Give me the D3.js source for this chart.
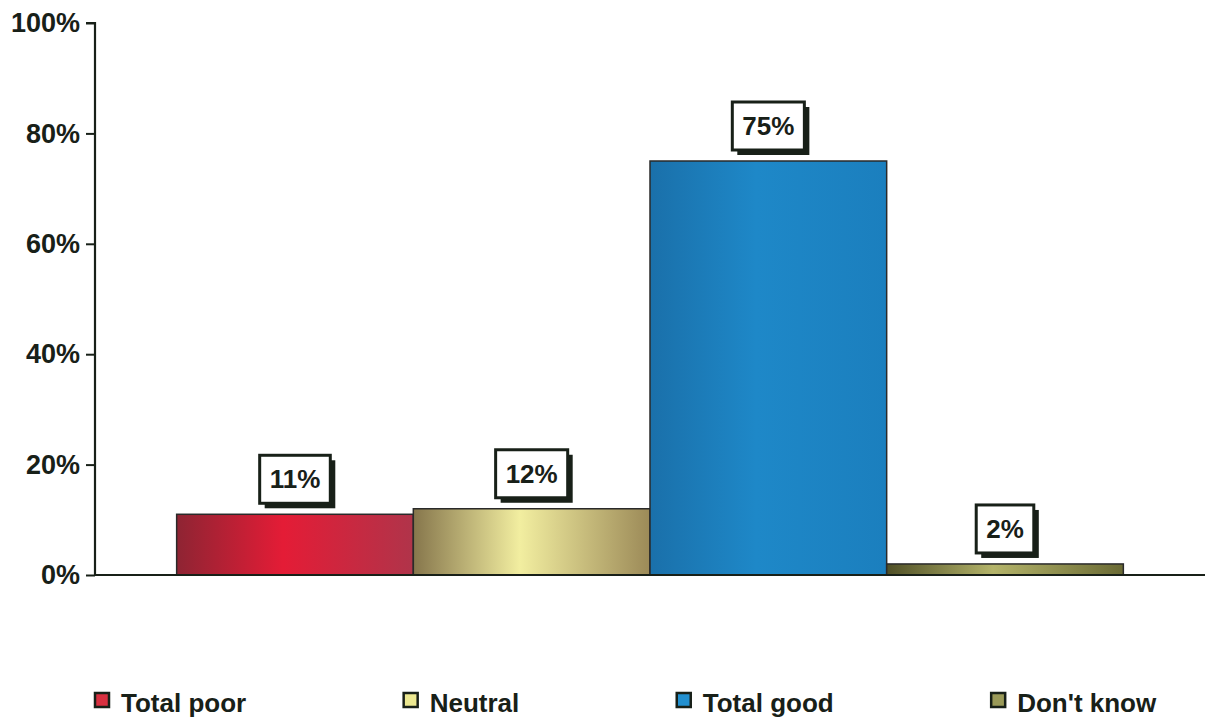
<!DOCTYPE html>
<html>
<head>
<meta charset="utf-8">
<script src="https://cdn.jsdelivr.net/npm/d3@7"></script>
<style>
  html, body { margin: 0; padding: 0; background: #fff; }
  svg { display: block; font-family: "Liberation Sans", Arial, sans-serif; }
</style>
</head>
<body>
<svg id="chart" width="1207" height="717"></svg>
<script>
// Survey rating shares
const categories = ["Total poor", "Neutral", "Total good", "Don't know"];
const values = [11, 12, 75, 2];
const yTicks = [0, 20, 40, 60, 80, 100];

// Colour ramps per category: [edge, highlight, edge]
const ramps = [
  ["#8e2433", "#e41c36", "#b0344a"],
  ["#86764c", "#f2eea0", "#9c8a58"],
  ["#1a70aa", "#1e88c8", "#1b7fbe"],
  ["#4f4f26", "#b4b46a", "#6a6a34"]
];
const swatchFill = ["#d83040", "#ece890", "#2290d0", "#9a9a58"];

const svg = d3.select("#chart");
const ink = "#182018";

const x = d3.scaleBand().domain(categories).range([95, 1205])
  .paddingInner(0).paddingOuter(0.345);
const y = d3.scaleLinear().domain([0, 100]).range([575, 23]);

// Gradients for bars
const defs = svg.append("defs");
ramps.forEach((r, i) => {
  const g = defs.append("linearGradient").attr("id", "grad" + i)
    .attr("x1", "0%").attr("x2", "100%").attr("y1", "0%").attr("y2", "0%");
  g.append("stop").attr("offset", "0%").attr("stop-color", r[0]);
  g.append("stop").attr("offset", "45%").attr("stop-color", r[1]);
  g.append("stop").attr("offset", "100%").attr("stop-color", r[2]);
});

// Bars
svg.append("g").selectAll("rect").data(values).join("rect")
  .attr("x", (d, i) => x(categories[i]))
  .attr("y", d => y(d))
  .attr("width", x.bandwidth())
  .attr("height", d => y(0) - y(d))
  .attr("fill", (d, i) => `url(#grad${i})`)
  .attr("stroke", "#2a2a2a")
  .attr("stroke-width", 1.5);

// Y axis
const yAxis = d3.axisLeft(y).tickValues(yTicks)
  .tickFormat(d => d + "%").tickSize(9).tickPadding(6);
const gy = svg.append("g").attr("transform", "translate(95,0)").call(yAxis);
gy.select(".domain").attr("stroke", ink).attr("stroke-width", 2.2)
  .attr("d", `M-9,${y(100)}H0V${y(0)}`);
gy.selectAll(".tick line").attr("stroke", ink).attr("stroke-width", 2);
gy.selectAll(".tick text").attr("fill", ink)
  .style("font-size", "27px").style("font-weight", "bold")
  .attr("font-family", "Liberation Sans, Arial, sans-serif");

// X baseline
svg.append("line").attr("x1", 95).attr("x2", 1205)
  .attr("y1", y(0)).attr("y2", y(0))
  .attr("stroke", ink).attr("stroke-width", 2);

// Value labels in framed boxes with drop shadow
const lbl = svg.append("g").selectAll("g").data(values).join("g");
lbl.each(function (d, i) {
  const g = d3.select(this);
  const cx = x(categories[i]) + x.bandwidth() / 2;
  const t = g.append("text").text(d + "%")
    .attr("font-size", 26).attr("font-weight", "bold").attr("fill", ink)
    .attr("text-anchor", "middle");
  const w = t.node().getComputedTextLength() + 20;
  const h = 48;
  const bottom = y(d) - 11;
  const top = bottom - h;
  g.insert("rect", "text").attr("x", cx - w / 2 + 5).attr("y", top + 5)
    .attr("width", w).attr("height", h).attr("fill", ink);
  g.insert("rect", "text").attr("x", cx - w / 2).attr("y", top)
    .attr("width", w).attr("height", h).attr("fill", "#fff")
    .attr("stroke", ink).attr("stroke-width", 3);
  t.attr("x", cx).attr("y", top + h / 2 + 9);
});

// Legend
const legend = svg.append("g");
const items = legend.selectAll("g").data(categories).join("g");
items.append("rect").attr("x", 0).attr("y", 693).attr("width", 14).attr("height", 14)
  .attr("fill", (d, i) => swatchFill[i]).attr("stroke", ink).attr("stroke-width", 2.5);
items.append("text").text(d => d).attr("x", 26).attr("y", 712)
  .attr("font-size", 26).attr("font-weight", "bold").attr("fill", ink);
const widths = items.nodes().map(n => n.getBBox().width);
const start = 95, end = 1157;
const gap = (end - start - d3.sum(widths)) / (categories.length - 1);
let cur = start;
items.attr("transform", (d, i) => {
  const tx = cur;
  cur += widths[i] + gap;
  return `translate(${tx},0)`;
});
</script>
</body>
</html>
